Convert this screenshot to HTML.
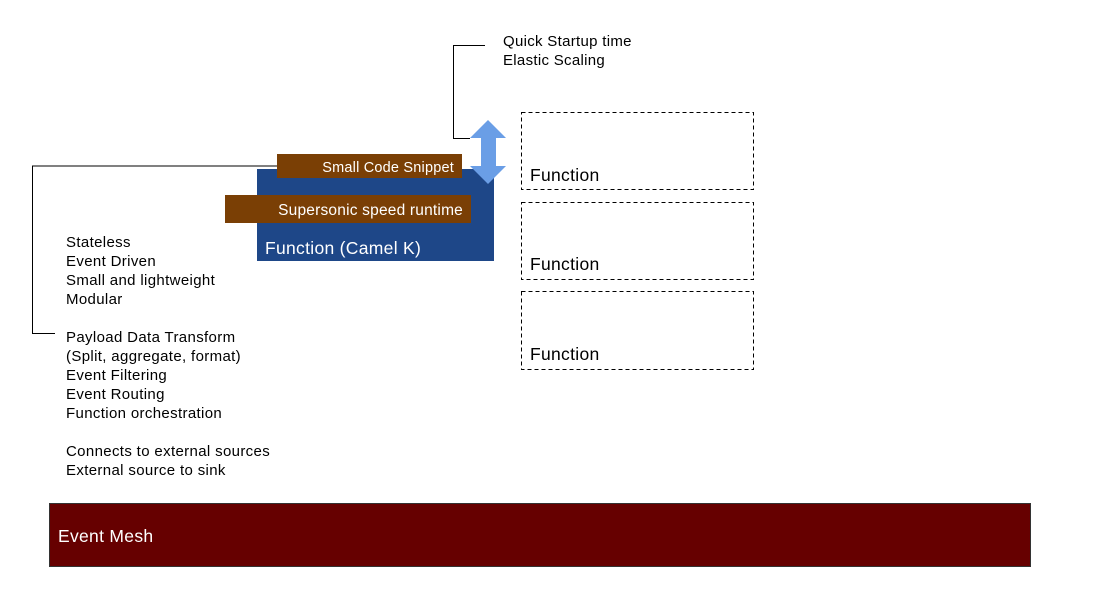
<!DOCTYPE html>
<html><head><style>
body{margin:0;background:#fff;}
svg{display:block;}
text{font-family:"Liberation Sans",sans-serif;}
</style></head><body>
<svg width="1102" height="616" viewBox="0 0 1102 616" xmlns="http://www.w3.org/2000/svg">
<rect width="1102" height="616" fill="#fff"/>
<polyline points="277,166 32.5,166 32.5,333.5 55,333.5" fill="none" stroke="#000" stroke-width="1"/>
<polyline points="485,45.5 453.5,45.5 453.5,138.5 470,138.5" fill="none" stroke="#000" stroke-width="1"/>
<rect x="257" y="169" width="237" height="92" fill="#1e4788"/>
<rect x="277" y="154" width="185" height="24" fill="#7a3f05"/>
<rect x="225" y="195" width="246" height="28" fill="#7a3f05"/>
<text x="454" y="172" font-size="14.5" letter-spacing="0.2" fill="#fff" text-anchor="end">Small Code Snippet</text>
<text x="463" y="215" font-size="15.5" letter-spacing="0.2" fill="#fff" text-anchor="end">Supersonic speed runtime</text>
<text x="265" y="254" font-size="17.5" letter-spacing="0.3" fill="#fff">Function (Camel K)</text>
<polygon points="488,120 506,138 496,138 496,166 506,166 488,184 470,166 481,166 481,138 470,138" fill="#6a9ee6"/>
<g font-size="15" letter-spacing="0.3" fill="#000">
<text x="503" y="46">Quick Startup time</text>
<text x="503" y="65">Elastic Scaling</text>
</g>
<g fill="none" stroke="#000" stroke-dasharray="4,3" stroke-width="1">
<rect x="521.5" y="112.5" width="232" height="77"/>
<rect x="521.5" y="202.5" width="232" height="77"/>
<rect x="521.5" y="291.5" width="232" height="78"/>
</g>
<g font-size="17.5" letter-spacing="0.3" fill="#000">
<text x="530" y="181">Function</text>
<text x="530" y="270">Function</text>
<text x="530" y="360">Function</text>
</g>
<g font-size="15" letter-spacing="0.35" fill="#000">
<text x="66" y="247">Stateless</text>
<text x="66" y="266">Event Driven</text>
<text x="66" y="285">Small and lightweight</text>
<text x="66" y="304">Modular</text>
<text x="66" y="342">Payload Data Transform</text>
<text x="66" y="361">(Split, aggregate, format)</text>
<text x="66" y="380">Event Filtering</text>
<text x="66" y="399">Event Routing</text>
<text x="66" y="418">Function orchestration</text>
<text x="66" y="456">Connects to external sources</text>
<text x="66" y="475">External source to sink</text>
</g>
<rect x="49.5" y="503.5" width="981" height="63" fill="#660000" stroke="#333" stroke-width="1"/>
<text x="58" y="542" font-size="17.5" letter-spacing="0.3" fill="#fff">Event Mesh</text>
</svg>
</body></html>
